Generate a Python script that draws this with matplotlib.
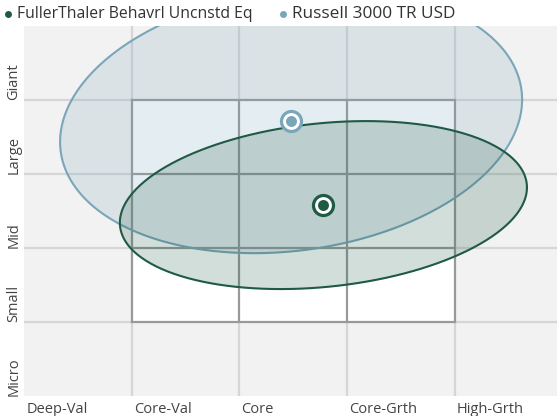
import numpy as np
import matplotlib
matplotlib.use("Agg")
import matplotlib.pyplot as plt
from matplotlib.lines import Line2D

# ---- data ----
series_names = ["FullerThaler Behavrl Uncnstd Eq", "Russell 3000 TR USD"]
series_colors = ["#1f5a44", "#7aa6ba"]
# style position (x: 0=Deep-Val ... 5), size position (y: 0=Micro ... 5)
centroid_x = [2.78, 2.48]
centroid_y = [2.58, 3.72]
# ellipse half-extents (style, size) and correlation
spread_x = [1.89, 2.145]
spread_y = [1.135, 1.79]
spread_r = [0.21, 0.16]

style_labels = ["Deep-Val", "Core-Val", "Core", "Core-Grth", "High-Grth"]
size_labels = ["Micro", "Small", "Mid", "Large", "Giant"]

plt.rcParams['font.family'] = ['Open Sans', 'DejaVu Sans']

W, H = 557, 416
fig = plt.figure(figsize=(W / 100, H / 100), dpi=100)
left, right, top, bottom = 24, 557, 26, 396
ax = fig.add_axes([left / W, 1 - bottom / H, (right - left) / W, (bottom - top) / H])
ax.set_facecolor("#f2f2f2")
ax.set_xlim(0, (right - left) / 107.7)
ax.set_ylim(0, 5)

for s in ax.spines.values():
    s.set_visible(False)

# grid
for v in range(1, 5):
    ax.axvline(v, color="#d6d6d6", lw=1.6, zorder=0.5)
    ax.axhline(v, color="#d6d6d6", lw=1.6, zorder=0.5)

# central 3x3 box
ax.fill_between([1, 4], 1, 4, color="white", zorder=1)
for v in range(1, 5):
    ax.plot([v, v], [1, 4], color="#999999", lw=1.6, zorder=2, solid_capstyle="projecting")
    ax.plot([1, 4], [v, v], color="#999999", lw=1.6, zorder=2, solid_capstyle="projecting")

# ellipses (Russell first, then fund on top)
t = np.linspace(0, 2 * np.pi, 400)
for k, i in enumerate([1, 0]):
    A, B, r = spread_x[i], spread_y[i], spread_r[i]
    ex = centroid_x[i] + A * np.cos(t)
    ey = centroid_y[i] + B * (r * np.cos(t) + np.sqrt(1 - r ** 2) * np.sin(t))
    ax.fill(ex, ey, color=series_colors[i], alpha=0.2, lw=0, zorder=3 + 2 * k)
    ax.plot(ex, ey, color=series_colors[i], lw=1.5, zorder=4 + 2 * k)

# centroid markers
for i in range(2):
    ax.plot(centroid_x[i], centroid_y[i], marker="o", ms=14.4, mfc="white",
            mec=series_colors[i], mew=2.3, zorder=10)
    ax.plot(centroid_x[i], centroid_y[i], marker="o", ms=7.9, mfc=series_colors[i],
            mec="none", zorder=11)

# ticks
ax.set_xticks(np.arange(5) + 0.02)
ax.set_xticklabels(style_labels, ha="left", fontsize=10.5, color="#444444")
ax.set_yticks(range(5))
ax.set_yticklabels(size_labels, rotation=90, va="bottom", ha="right", fontsize=10.5, color="#444444")
ax.tick_params(axis="x", length=0, pad=4)
ax.tick_params(axis="y", length=0, pad=2)

# legend
leg_x = [8, 283]
leg_size = [11.3, 12.4]
for i in range(2):
    fig.add_artist(Line2D([leg_x[i] / W], [1 - 14 / H], marker="o", ms=5,
                          color=series_colors[i], mec="none", transform=fig.transFigure))
    fig.text((leg_x[i] + 9) / W, 1 - 14 / H, series_names[i], fontsize=leg_size[i],
             color="#333333", va="center", ha="left")

fig.savefig("out.png", dpi=100)
